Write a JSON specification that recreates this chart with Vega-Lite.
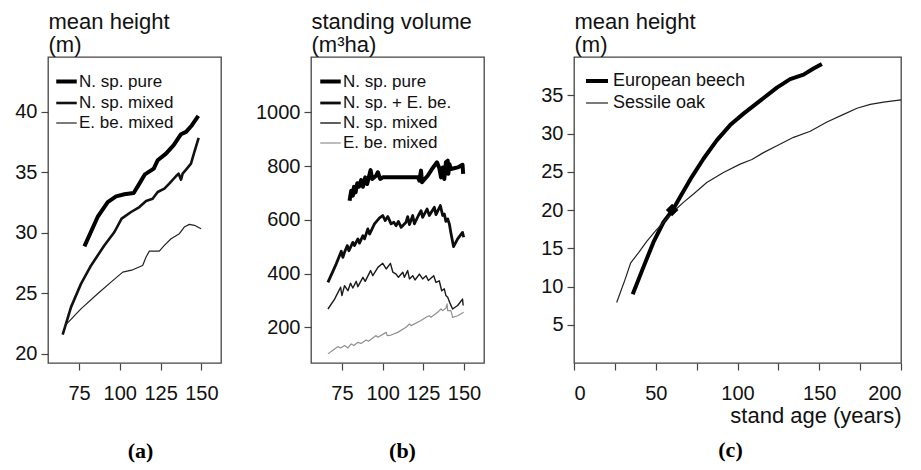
{
  "$schema": "https://vega.github.io/schema/vega-lite/v6.json",
  "background": "white",
  "padding": {"left": 14, "top": 9, "right": 3, "bottom": 3},
  "bounds": "flush",
  "spacing": 90,
  "config": {
    "font": "Liberation Sans",
    "view": {"stroke": "#444", "strokeWidth": 1.3},
    "axis": {
      "grid": false, "domain": false, "tickColor": "#444", "tickSize": 7, "tickWidth": 1.2,
      "labelFont": "Liberation Sans", "labelFontSize": 20, "labelColor": "#111", "labelPadding": 4,
      "titleFont": "Liberation Sans", "titleFontSize": 22, "titleFontWeight": "normal", "titleColor": "#111"
    },
    "axisX": {"labelPadding": 13},
    "legend": {
      "orient": "none", "padding": 0, "symbolType": "stroke",
      "labelFont": "Liberation Sans", "labelColor": "#111", "rowPadding": 1
    },
    "line": {"strokeJoin": "round", "strokeCap": "butt"}
  },
  "datasets": {
    "a": [
      {"age": 78.3, "h": 28.87, "s": "N. sp. pure"}, {"age": 86.4, "h": 31.3, "s": "N. sp. pure"}, {"age": 92.6, "h": 32.53, "s": "N. sp. pure"},
      {"age": 97.7, "h": 33.0, "s": "N. sp. pure"}, {"age": 102.8, "h": 33.17, "s": "N. sp. pure"}, {"age": 108.5, "h": 33.28, "s": "N. sp. pure"},
      {"age": 112, "h": 34.05, "s": "N. sp. pure"}, {"age": 115.4, "h": 34.82, "s": "N. sp. pure"}, {"age": 120.8, "h": 35.29, "s": "N. sp. pure"},
      {"age": 123.2, "h": 35.98, "s": "N. sp. pure"}, {"age": 128.3, "h": 36.53, "s": "N. sp. pure"}, {"age": 133, "h": 37.22, "s": "N. sp. pure"},
      {"age": 137.5, "h": 38.13, "s": "N. sp. pure"}, {"age": 140.6, "h": 38.32, "s": "N. sp. pure"}, {"age": 144.2, "h": 38.87, "s": "N. sp. pure"},
      {"age": 148.1, "h": 39.64, "s": "N. sp. pure"},
      {"age": 65, "h": 21.6, "s": "N. sp. mixed"}, {"age": 70.1, "h": 23.86, "s": "N. sp. mixed"}, {"age": 76.2, "h": 25.78, "s": "N. sp. mixed"},
      {"age": 82.4, "h": 27.3, "s": "N. sp. mixed"}, {"age": 90.5, "h": 28.95, "s": "N. sp. mixed"}, {"age": 96.7, "h": 30.06, "s": "N. sp. mixed"},
      {"age": 101.1, "h": 31.16, "s": "N. sp. mixed"}, {"age": 106.9, "h": 31.71, "s": "N. sp. mixed"}, {"age": 112, "h": 32.12, "s": "N. sp. mixed"},
      {"age": 116.1, "h": 32.62, "s": "N. sp. mixed"}, {"age": 120.1, "h": 32.81, "s": "N. sp. mixed"}, {"age": 123.2, "h": 33.36, "s": "N. sp. mixed"},
      {"age": 127.3, "h": 33.64, "s": "N. sp. mixed"}, {"age": 130.3, "h": 34.05, "s": "N. sp. mixed"}, {"age": 134.4, "h": 34.66, "s": "N. sp. mixed"},
      {"age": 136, "h": 34.88, "s": "N. sp. mixed"}, {"age": 137.5, "h": 34.38, "s": "N. sp. mixed"}, {"age": 138.5, "h": 34.88, "s": "N. sp. mixed"},
      {"age": 140.6, "h": 35.21, "s": "N. sp. mixed"}, {"age": 143.6, "h": 35.7, "s": "N. sp. mixed"}, {"age": 145.7, "h": 36.67, "s": "N. sp. mixed"},
      {"age": 148.3, "h": 37.82, "s": "N. sp. mixed"},
      {"age": 66, "h": 22.2, "s": "E. be. mixed"}, {"age": 67, "h": 22.42, "s": "E. be. mixed"}, {"age": 76.2, "h": 23.72, "s": "E. be. mixed"},
      {"age": 86.4, "h": 24.96, "s": "E. be. mixed"}, {"age": 94.6, "h": 25.92, "s": "E. be. mixed"}, {"age": 101.8, "h": 26.75, "s": "E. be. mixed"},
      {"age": 107.9, "h": 26.94, "s": "E. be. mixed"}, {"age": 114, "h": 27.3, "s": "E. be. mixed"}, {"age": 116.1, "h": 27.99, "s": "E. be. mixed"},
      {"age": 118.1, "h": 28.48, "s": "E. be. mixed"}, {"age": 124.2, "h": 28.48, "s": "E. be. mixed"}, {"age": 127.3, "h": 28.95, "s": "E. be. mixed"},
      {"age": 131.4, "h": 29.5, "s": "E. be. mixed"}, {"age": 136.5, "h": 29.92, "s": "E. be. mixed"}, {"age": 139.5, "h": 30.47, "s": "E. be. mixed"},
      {"age": 142.6, "h": 30.69, "s": "E. be. mixed"}, {"age": 145.7, "h": 30.61, "s": "E. be. mixed"}, {"age": 149.8, "h": 30.33, "s": "E. be. mixed"}
    ],
    "b": [
      {"age": 79.7, "v": 671, "s": "N. sp. pure"}, {"age": 80.7, "v": 708, "s": "N. sp. pure"}, {"age": 81.7, "v": 690, "s": "N. sp. pure"},
      {"age": 82.4, "v": 723, "s": "N. sp. pure"}, {"age": 83.4, "v": 702, "s": "N. sp. pure"}, {"age": 84.4, "v": 736, "s": "N. sp. pure"},
      {"age": 85.4, "v": 723, "s": "N. sp. pure"}, {"age": 86.8, "v": 748, "s": "N. sp. pure"}, {"age": 87.9, "v": 723, "s": "N. sp. pure"},
      {"age": 89.3, "v": 758, "s": "N. sp. pure"}, {"age": 90.5, "v": 733, "s": "N. sp. pure"}, {"age": 92.6, "v": 785, "s": "N. sp. pure"},
      {"age": 93.6, "v": 752, "s": "N. sp. pure"}, {"age": 96, "v": 764, "s": "N. sp. pure"}, {"age": 97.1, "v": 777, "s": "N. sp. pure"},
      {"age": 98.5, "v": 752, "s": "N. sp. pure"}, {"age": 100.1, "v": 758, "s": "N. sp. pure"}, {"age": 121.6, "v": 758, "s": "N. sp. pure"},
      {"age": 122.6, "v": 746, "s": "N. sp. pure"}, {"age": 123.6, "v": 783, "s": "N. sp. pure"}, {"age": 124.2, "v": 740, "s": "N. sp. pure"},
      {"age": 127.7, "v": 764, "s": "N. sp. pure"}, {"age": 130.8, "v": 793, "s": "N. sp. pure"}, {"age": 133.4, "v": 814, "s": "N. sp. pure"},
      {"age": 134.8, "v": 793, "s": "N. sp. pure"}, {"age": 135.9, "v": 758, "s": "N. sp. pure"}, {"age": 136.9, "v": 795, "s": "N. sp. pure"},
      {"age": 137.9, "v": 752, "s": "N. sp. pure"}, {"age": 138.9, "v": 814, "s": "N. sp. pure"}, {"age": 140, "v": 820, "s": "N. sp. pure"},
      {"age": 140.4, "v": 771, "s": "N. sp. pure"}, {"age": 141, "v": 808, "s": "N. sp. pure"}, {"age": 142, "v": 789, "s": "N. sp. pure"},
      {"age": 146.1, "v": 795, "s": "N. sp. pure"}, {"age": 149.1, "v": 805, "s": "N. sp. pure"}, {"age": 149.5, "v": 771, "s": "N. sp. pure"},
      {"age": 66.4, "v": 367, "s": "N. sp. + E. be."}, {"age": 71.5, "v": 436, "s": "N. sp. + E. be."}, {"age": 74.6, "v": 483, "s": "N. sp. + E. be."},
      {"age": 75.6, "v": 460, "s": "N. sp. + E. be."}, {"age": 76.6, "v": 479, "s": "N. sp. + E. be."}, {"age": 78.3, "v": 504, "s": "N. sp. + E. be."},
      {"age": 79.3, "v": 485, "s": "N. sp. + E. be."}, {"age": 81.7, "v": 516, "s": "N. sp. + E. be."}, {"age": 82.7, "v": 504, "s": "N. sp. + E. be."},
      {"age": 84.8, "v": 529, "s": "N. sp. + E. be."}, {"age": 85.8, "v": 513, "s": "N. sp. + E. be."}, {"age": 87.9, "v": 541, "s": "N. sp. + E. be."},
      {"age": 88.9, "v": 529, "s": "N. sp. + E. be."}, {"age": 90.9, "v": 566, "s": "N. sp. + E. be."}, {"age": 92, "v": 547, "s": "N. sp. + E. be."},
      {"age": 95, "v": 585, "s": "N. sp. + E. be."}, {"age": 98.1, "v": 607, "s": "N. sp. + E. be."}, {"age": 100.1, "v": 616, "s": "N. sp. + E. be."},
      {"age": 101.6, "v": 597, "s": "N. sp. + E. be."}, {"age": 103.2, "v": 612, "s": "N. sp. + E. be."}, {"age": 105.2, "v": 585, "s": "N. sp. + E. be."},
      {"age": 106.9, "v": 591, "s": "N. sp. + E. be."}, {"age": 108.3, "v": 578, "s": "N. sp. + E. be."}, {"age": 109.7, "v": 594, "s": "N. sp. + E. be."},
      {"age": 111.4, "v": 572, "s": "N. sp. + E. be."}, {"age": 114.4, "v": 591, "s": "N. sp. + E. be."}, {"age": 115.4, "v": 612, "s": "N. sp. + E. be."},
      {"age": 116.5, "v": 582, "s": "N. sp. + E. be."}, {"age": 118.5, "v": 616, "s": "N. sp. + E. be."}, {"age": 119.5, "v": 585, "s": "N. sp. + E. be."},
      {"age": 122, "v": 616, "s": "N. sp. + E. be."}, {"age": 123.6, "v": 634, "s": "N. sp. + E. be."}, {"age": 124.6, "v": 609, "s": "N. sp. + E. be."},
      {"age": 127.3, "v": 640, "s": "N. sp. + E. be."}, {"age": 128.7, "v": 616, "s": "N. sp. + E. be."}, {"age": 131.8, "v": 647, "s": "N. sp. + E. be."},
      {"age": 132.8, "v": 619, "s": "N. sp. + E. be."}, {"age": 135.5, "v": 653, "s": "N. sp. + E. be."}, {"age": 136.9, "v": 616, "s": "N. sp. + E. be."},
      {"age": 137.9, "v": 622, "s": "N. sp. + E. be."}, {"age": 138.9, "v": 594, "s": "N. sp. + E. be."}, {"age": 140, "v": 603, "s": "N. sp. + E. be."},
      {"age": 141, "v": 585, "s": "N. sp. + E. be."}, {"age": 142, "v": 550, "s": "N. sp. + E. be."}, {"age": 143.6, "v": 500, "s": "N. sp. + E. be."},
      {"age": 146.1, "v": 529, "s": "N. sp. + E. be."}, {"age": 149.1, "v": 553, "s": "N. sp. + E. be."}, {"age": 149.8, "v": 535, "s": "N. sp. + E. be."},
      {"age": 66.4, "v": 268, "s": "N. sp. mixed"}, {"age": 70.5, "v": 305, "s": "N. sp. mixed"}, {"age": 74.2, "v": 349, "s": "N. sp. mixed"},
      {"age": 75, "v": 318, "s": "N. sp. mixed"}, {"age": 76.6, "v": 355, "s": "N. sp. mixed"}, {"age": 78.7, "v": 336, "s": "N. sp. mixed"},
      {"age": 80.3, "v": 364, "s": "N. sp. mixed"}, {"age": 81.7, "v": 346, "s": "N. sp. mixed"}, {"age": 83.8, "v": 371, "s": "N. sp. mixed"},
      {"age": 84.8, "v": 351, "s": "N. sp. mixed"}, {"age": 87.9, "v": 386, "s": "N. sp. mixed"}, {"age": 89.3, "v": 371, "s": "N. sp. mixed"},
      {"age": 92.6, "v": 411, "s": "N. sp. mixed"}, {"age": 94, "v": 392, "s": "N. sp. mixed"}, {"age": 97.1, "v": 423, "s": "N. sp. mixed"},
      {"age": 100.1, "v": 438, "s": "N. sp. mixed"}, {"age": 102.2, "v": 417, "s": "N. sp. mixed"}, {"age": 104.8, "v": 438, "s": "N. sp. mixed"},
      {"age": 106.3, "v": 405, "s": "N. sp. mixed"}, {"age": 108.3, "v": 398, "s": "N. sp. mixed"}, {"age": 109.7, "v": 386, "s": "N. sp. mixed"},
      {"age": 112.4, "v": 405, "s": "N. sp. mixed"}, {"age": 113.4, "v": 386, "s": "N. sp. mixed"}, {"age": 115.4, "v": 411, "s": "N. sp. mixed"},
      {"age": 116.5, "v": 380, "s": "N. sp. mixed"}, {"age": 118.5, "v": 392, "s": "N. sp. mixed"}, {"age": 119.9, "v": 376, "s": "N. sp. mixed"},
      {"age": 122.6, "v": 398, "s": "N. sp. mixed"}, {"age": 124.6, "v": 380, "s": "N. sp. mixed"}, {"age": 126.7, "v": 392, "s": "N. sp. mixed"},
      {"age": 128.1, "v": 374, "s": "N. sp. mixed"}, {"age": 131.4, "v": 392, "s": "N. sp. mixed"}, {"age": 132.8, "v": 367, "s": "N. sp. mixed"},
      {"age": 134.8, "v": 373, "s": "N. sp. mixed"}, {"age": 136.3, "v": 336, "s": "N. sp. mixed"}, {"age": 137.9, "v": 343, "s": "N. sp. mixed"},
      {"age": 138.9, "v": 318, "s": "N. sp. mixed"}, {"age": 140, "v": 312, "s": "N. sp. mixed"}, {"age": 141.6, "v": 287, "s": "N. sp. mixed"},
      {"age": 143, "v": 268, "s": "N. sp. mixed"}, {"age": 146.1, "v": 281, "s": "N. sp. mixed"}, {"age": 149.1, "v": 305, "s": "N. sp. mixed"},
      {"age": 149.5, "v": 281, "s": "N. sp. mixed"},
      {"age": 66.4, "v": 101, "s": "E. be. mixed"}, {"age": 70.5, "v": 119, "s": "E. be. mixed"}, {"age": 72.5, "v": 128, "s": "E. be. mixed"},
      {"age": 74.2, "v": 123, "s": "E. be. mixed"}, {"age": 76.6, "v": 132, "s": "E. be. mixed"}, {"age": 78.7, "v": 123, "s": "E. be. mixed"},
      {"age": 80.7, "v": 138, "s": "E. be. mixed"}, {"age": 82.4, "v": 132, "s": "E. be. mixed"}, {"age": 84.8, "v": 144, "s": "E. be. mixed"},
      {"age": 86.8, "v": 140, "s": "E. be. mixed"}, {"age": 89.9, "v": 153, "s": "E. be. mixed"}, {"age": 91.3, "v": 148, "s": "E. be. mixed"},
      {"age": 96, "v": 169, "s": "E. be. mixed"}, {"age": 97.1, "v": 163, "s": "E. be. mixed"}, {"age": 102.2, "v": 181, "s": "E. be. mixed"},
      {"age": 102.8, "v": 169, "s": "E. be. mixed"}, {"age": 105.2, "v": 171, "s": "E. be. mixed"}, {"age": 109.3, "v": 181, "s": "E. be. mixed"},
      {"age": 114.4, "v": 200, "s": "E. be. mixed"}, {"age": 116.5, "v": 212, "s": "E. be. mixed"}, {"age": 117.5, "v": 206, "s": "E. be. mixed"},
      {"age": 123.6, "v": 225, "s": "E. be. mixed"}, {"age": 126.7, "v": 237, "s": "E. be. mixed"}, {"age": 128.7, "v": 243, "s": "E. be. mixed"},
      {"age": 129.7, "v": 237, "s": "E. be. mixed"}, {"age": 133.8, "v": 256, "s": "E. be. mixed"}, {"age": 135.9, "v": 268, "s": "E. be. mixed"},
      {"age": 136.9, "v": 262, "s": "E. be. mixed"}, {"age": 138.9, "v": 271, "s": "E. be. mixed"}, {"age": 139.6, "v": 287, "s": "E. be. mixed"},
      {"age": 140, "v": 262, "s": "E. be. mixed"}, {"age": 142, "v": 262, "s": "E. be. mixed"}, {"age": 143, "v": 237, "s": "E. be. mixed"},
      {"age": 146.1, "v": 243, "s": "E. be. mixed"}, {"age": 149.8, "v": 256, "s": "E. be. mixed"}
    ],
    "c": [
      {"age": 35.9, "h": 9.0, "s": "European beech"}, {"age": 42.4, "h": 12.5, "s": "European beech"}, {"age": 48.6, "h": 15.8, "s": "European beech"},
      {"age": 54.7, "h": 18.4, "s": "European beech"}, {"age": 60.4, "h": 20.0, "s": "European beech"}, {"age": 64.9, "h": 21.7, "s": "European beech"},
      {"age": 72, "h": 24.3, "s": "European beech"}, {"age": 79.2, "h": 26.7, "s": "European beech"}, {"age": 87.3, "h": 29.1, "s": "European beech"},
      {"age": 95.5, "h": 31.1, "s": "European beech"}, {"age": 103.7, "h": 32.6, "s": "European beech"}, {"age": 113.9, "h": 34.3, "s": "European beech"},
      {"age": 124.1, "h": 36.0, "s": "European beech"}, {"age": 132.2, "h": 37.1, "s": "European beech"}, {"age": 140.4, "h": 37.7, "s": "European beech"},
      {"age": 146.5, "h": 38.5, "s": "European beech"}, {"age": 151.6, "h": 39.1, "s": "European beech"},
      {"age": 26.1, "h": 7.9, "s": "Sessile oak"}, {"age": 31.2, "h": 10.9, "s": "Sessile oak"}, {"age": 34.7, "h": 13.1, "s": "Sessile oak"},
      {"age": 39.4, "h": 14.4, "s": "Sessile oak"}, {"age": 44.5, "h": 15.9, "s": "Sessile oak"}, {"age": 49.6, "h": 17.2, "s": "Sessile oak"},
      {"age": 54.7, "h": 18.4, "s": "Sessile oak"}, {"age": 60.4, "h": 19.7, "s": "Sessile oak"}, {"age": 66.9, "h": 21.0, "s": "Sessile oak"},
      {"age": 73.1, "h": 22.1, "s": "Sessile oak"}, {"age": 81.2, "h": 23.6, "s": "Sessile oak"}, {"age": 91.4, "h": 24.9, "s": "Sessile oak"},
      {"age": 101.6, "h": 26.0, "s": "Sessile oak"}, {"age": 108.8, "h": 26.6, "s": "Sessile oak"}, {"age": 115.9, "h": 27.5, "s": "Sessile oak"},
      {"age": 124.1, "h": 28.4, "s": "Sessile oak"}, {"age": 134.3, "h": 29.5, "s": "Sessile oak"}, {"age": 144.5, "h": 30.3, "s": "Sessile oak"},
      {"age": 154.7, "h": 31.5, "s": "Sessile oak"}, {"age": 164.9, "h": 32.5, "s": "Sessile oak"}, {"age": 173.1, "h": 33.3, "s": "Sessile oak"},
      {"age": 181.2, "h": 33.8, "s": "Sessile oak"}, {"age": 189.4, "h": 34.1, "s": "Sessile oak"}, {"age": 200, "h": 34.4, "s": "Sessile oak"}
    ],
    "cross": [{"age": 60, "h": 20}]
  },
  "resolve": {
    "scale": {"color": "independent", "strokeWidth": "independent"},
    "legend": {"color": "independent", "strokeWidth": "independent"}
  },
  "hconcat": [
    {
      "width": 173, "height": 306,
      "title": {"text": "(a)", "orient": "bottom", "anchor": "middle", "frame": "group", "font": "Liberation Serif", "fontSize": 22, "fontWeight": "bold", "color": "#000", "offset": 38, "dx": 6},
      "layer": [
        {
          "data": {"name": "a"},
          "mark": {"type": "line"},
          "encoding": {
            "x": {"field": "age", "type": "quantitative", "scale": {"domain": [56, 162], "nice": false, "zero": false},
                  "axis": {"values": [75, 100, 125, 150], "title": null}},
            "y": {"field": "h", "type": "quantitative", "scale": {"domain": [19.25, 44.5], "nice": false, "zero": false},
                  "axis": {"values": [20, 25, 30, 35, 40], "title": ["mean height", "(m)"], "titleAngle": 0, "titleAlign": "left", "titleBaseline": "bottom", "titleX": 0, "titleY": -24, "titleLineHeight": 23}},
            "color": {"field": "s", "type": "nominal", "scale": {"domain": ["N. sp. pure", "N. sp. mixed", "E. be. mixed"], "range": ["#000000", "#111111", "#222222"]},
                      "legend": {"title": null, "legendX": 6, "legendY": 12, "labelFontSize": 17, "labelOffset": 0, "symbolSize": 420}},
            "strokeWidth": {"field": "s", "type": "nominal", "scale": {"type": "ordinal", "domain": ["N. sp. pure", "N. sp. mixed", "E. be. mixed"], "range": [4, 2.6, 1.2]},
                      "legend": {"title": null, "legendX": 6, "legendY": 12, "labelFontSize": 17, "labelOffset": 0, "symbolSize": 420}}
          }
        }
      ]
    },
    {
      "width": 173, "height": 306,
      "title": {"text": "(b)", "orient": "bottom", "anchor": "middle", "frame": "group", "font": "Liberation Serif", "fontSize": 22, "fontWeight": "bold", "color": "#000", "offset": 38, "dx": 5},
      "layer": [
        {
          "data": {"name": "b"},
          "mark": {"type": "line"},
          "encoding": {
            "x": {"field": "age", "type": "quantitative", "scale": {"domain": [56, 162.3], "nice": false, "zero": false},
                  "axis": {"values": [75, 100, 125, 150], "title": null}},
            "y": {"field": "v", "type": "quantitative", "scale": {"domain": [67, 1206], "nice": false, "zero": false},
                  "axis": {"values": [200, 400, 600, 800, 1000], "format": "d", "title": ["standing volume", "(m³ha)"], "titleAngle": 0, "titleAlign": "left", "titleBaseline": "bottom", "titleX": 0, "titleY": -24, "titleLineHeight": 23}},
            "color": {"field": "s", "type": "nominal", "scale": {"domain": ["N. sp. pure", "N. sp. + E. be.", "N. sp. mixed", "E. be. mixed"], "range": ["#000000", "#0d0d0d", "#1a1a1a", "#909090"]},
                      "legend": {"title": null, "legendX": 7, "legendY": 12, "labelFontSize": 17, "labelOffset": 0, "symbolSize": 420}},
            "strokeWidth": {"field": "s", "type": "nominal", "scale": {"type": "ordinal", "domain": ["N. sp. pure", "N. sp. + E. be.", "N. sp. mixed", "E. be. mixed"], "range": [4, 2.8, 1.4, 1.2]},
                      "legend": {"title": null, "legendX": 7, "legendY": 12, "labelFontSize": 17, "labelOffset": 0, "symbolSize": 420}}
          }
        }
      ]
    },
    {
      "width": 327, "height": 306,
      "title": {"text": "(c)", "orient": "bottom", "anchor": "middle", "frame": "group", "font": "Liberation Serif", "fontSize": 22, "fontWeight": "bold", "color": "#000", "offset": 14, "dx": -7},
      "layer": [
        {
          "data": {"name": "c"},
          "mark": {"type": "line"},
          "encoding": {
            "x": {"field": "age", "type": "quantitative", "scale": {"domain": [0, 200], "nice": false},
                  "axis": {"values": [0, 25, 50, 75, 100, 125, 150, 175, 200], "labelExpr": "datum.value % 50 == 0 ? datum.label : ''", "title": "stand age (years)", "titleAnchor": "end", "titlePadding": 2}},
            "y": {"field": "h", "type": "quantitative", "scale": {"domain": [0, 40], "nice": false},
                  "axis": {"values": [5, 10, 15, 20, 25, 30, 35], "title": ["mean height", "(m)"], "titleAngle": 0, "titleAlign": "left", "titleBaseline": "bottom", "titleX": 0, "titleY": -24, "titleLineHeight": 23}},
            "color": {"field": "s", "type": "nominal", "scale": {"domain": ["European beech", "Sessile oak"], "range": ["#000000", "#222222"]},
                      "legend": {"title": null, "legendX": 10, "legendY": 11, "labelFontSize": 18, "labelOffset": 3, "symbolSize": 484}},
            "strokeWidth": {"field": "s", "type": "nominal", "scale": {"type": "ordinal", "domain": ["European beech", "Sessile oak"], "range": [4, 1.2]},
                      "legend": {"title": null, "legendX": 10, "legendY": 11, "labelFontSize": 18, "labelOffset": 3, "symbolSize": 484}}
          }
        },
        {
          "data": {"name": "cross"},
          "mark": {"type": "point", "shape": "diamond", "filled": true, "color": "#000", "size": 160, "opacity": 1},
          "encoding": {
            "x": {"field": "age", "type": "quantitative"},
            "y": {"field": "h", "type": "quantitative"}
          }
        }
      ]
    }
  ]
}
